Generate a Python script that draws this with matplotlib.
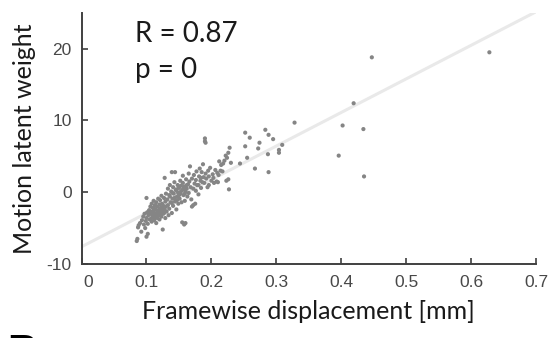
import matplotlib
matplotlib.use('Agg')
import matplotlib.pyplot as plt
import matplotlib.transforms as mtransforms
import numpy as np

fd_low = [0.085, 0.086, 0.087, 0.088, 0.090, 0.092, 0.093, 0.095, 0.096, 0.097, 0.098, 0.099,
          0.100, 0.102, 0.100, 0.100, 0.101, 0.102]
wt_low = [-6.8, -6.5, -4.9, -4.6, -4.3, -5.5, -3.9, -3.4, -4.5, -3.0, -5.0, -4.0,
          -6.2, -5.8, -0.8, -3.6, -2.8, -4.4]

fd_core1 = [0.103, 0.104, 0.105, 0.106, 0.107, 0.108, 0.108, 0.109, 0.110, 0.110, 0.111, 0.112,
            0.112, 0.113, 0.114, 0.114, 0.115, 0.115, 0.116, 0.117, 0.117, 0.118, 0.118, 0.119,
            0.120, 0.120, 0.121, 0.121, 0.122, 0.123, 0.123, 0.124, 0.125, 0.125, 0.126, 0.126,
            0.127, 0.128, 0.128, 0.129, 0.129, 0.130, 0.130]
wt_core1 = [-3.2, -2.5, -3.8, -2.0, -3.0, -4.1, -1.6, -2.7, -3.5, -2.2, -1.2, -3.9,
            -2.9, -1.8, -3.3, -2.4, -4.3, -1.4, -2.9, -3.6, -2.0, -0.9, -3.1, -2.5,
            -1.7, -3.8, -2.8, -1.1, -2.2, -3.4, -0.5, -1.6, -2.6, -5.2, -3.0, -1.9,
            -0.8, -2.4, 2.0, -3.6, -1.3, -0.2, -2.0]

fd_core2 = [0.131, 0.132, 0.133, 0.133, 0.134, 0.135, 0.135, 0.136, 0.137, 0.138, 0.139, 0.139,
            0.140, 0.141, 0.141, 0.142, 0.143, 0.144, 0.144, 0.145, 0.146, 0.147, 0.148, 0.148,
            0.149, 0.150, 0.151, 0.152, 0.152, 0.153, 0.154, 0.155, 0.155, 0.156, 0.156, 0.157,
            0.158, 0.158, 0.159, 0.160, 0.160, 0.161, 0.162, 0.163, 0.164, 0.165, 0.165, 0.166,
            0.167, 0.168, 0.169, 0.170, 0.170, 0.172, 0.172]
wt_core2 = [-2.7, -1.0, 0.5, -1.8, -3.2, -0.4, -2.3, 1.0, -1.4, 0.1, 2.8, -2.9,
            -0.9, 0.7, -1.9, -0.2, 1.4, 2.8, -1.3, 0.3, -2.4, -0.6, 1.0, 0.0,
            -1.6, 0.6, -0.9, 1.6, -0.2, 0.9, -1.4, 0.3, -4.2, 2.3, 1.3, -0.4,
            0.8, -4.5, -1.2, -4.3, 0.1, 1.8, 0.5, -0.6, 1.1, 2.6, -0.1, 1.5,
            3.6, 0.7, -1.0, -2.0, 1.9, 0.5, -1.8]

fd_mid = [0.173, 0.174, 0.175, 0.176, 0.177, 0.178, 0.180, 0.180, 0.181, 0.182, 0.183, 0.184,
          0.185, 0.186, 0.187, 0.188, 0.189, 0.190, 0.190, 0.191, 0.191, 0.192, 0.194, 0.195,
          0.196, 0.198, 0.200, 0.202, 0.204, 0.206, 0.208, 0.209, 0.210, 0.212, 0.214, 0.215,
          0.217, 0.218, 0.220, 0.222, 0.223, 0.224, 0.226, 0.226, 0.227, 0.228, 0.230]
wt_mid = [2.4, 1.2, -1.6, 0.2, 2.9, 1.0, -0.3, 1.0, 2.2, 3.3, 1.6, 0.6,
          2.8, 1.4, 3.9, 2.1, 1.3, 7.1, 7.5, 6.9, 2.6, 1.9, 0.7, 3.0,
          2.2, 3.4, 1.6, 2.5, 1.3, 3.1, 1.5, 2.7, 1.4, 4.3, 3.0, 3.8,
          2.9, 4.0, 4.4, 5.1, 1.6, 4.8, 1.8, 5.5, 0.4, 6.2, 4.1]

fd_high = [0.244, 0.252, 0.259, 0.252, 0.274, 0.272, 0.255, 0.267, 0.283, 0.288, 0.295, 0.309,
           0.304, 0.304, 0.287, 0.288, 0.328, 0.396, 0.402, 0.419, 0.434, 0.435, 0.447, 0.628]
wt_high = [4.0, 8.3, 7.6, 6.4, 6.9, 6.1, 4.8, 3.3, 8.7, 8.0, 7.4, 6.6,
           5.9, 5.5, 5.3, 2.8, 9.7, 5.1, 9.3, 12.4, 8.8, 2.2, 18.8, 19.5]

fd_extra = [0.105, 0.107, 0.109, 0.111, 0.113, 0.116, 0.118, 0.119, 0.121, 0.122, 0.124, 0.127,
            0.114, 0.112, 0.136, 0.140, 0.143, 0.146, 0.150, 0.153, 0.157, 0.159, 0.162, 0.147,
            0.139, 0.184, 0.176, 0.196, 0.203, 0.211]
wt_extra = [-2.9, -3.7, -3.3, -2.6, -3.6, -3.3, -2.7, -3.2, -2.3, -3.0, -2.1, -2.9,
            -1.9, -3.1, -0.6, -0.1, -0.8, 0.4, -0.4, 0.1, 0.5, -0.2, 1.0, -1.1,
            -1.5, 2.0, 1.7, 1.0, 2.0, 2.4]

fd = np.array(fd_low + fd_core1 + fd_core2 + fd_mid + fd_high + fd_extra)
weight = np.array(wt_low + wt_core1 + wt_core2 + wt_mid + wt_high + wt_extra)

# regression line as drawn in the figure
fit_intercept = -7.6
fit_slope = 46.8
r_value = 0.87
p_value = 0

x_ticks = [0, 0.1, 0.2, 0.3, 0.4, 0.5, 0.6, 0.7]
x_ticklabels = ['0', '0.1', '0.2', '0.3', '0.4', '0.5', '0.6', '0.7']
y_ticks = [-10, 0, 10, 20]
y_ticklabels = ['-10', '0', '10', '20']

label_font = ['Lato', 'DejaVu Sans']
tick_font = ['Liberation Sans', 'DejaVu Sans']
spine_col = '#404040'

fig = plt.figure(figsize=(5.51, 3.38), dpi=100)
ax = fig.add_axes([0.148, 0.219, 0.825, 0.743])

xs = np.array([0, 0.7])
ax.plot(xs, fit_intercept + fit_slope * xs, color='#e9e9e9', lw=2.2, zorder=1)
ax.scatter(fd, weight, s=9, color='#858585', edgecolors='none', zorder=2)

ax.set_xlim(0, 0.7)
ax.set_ylim(-10, 25)
ax.spines['top'].set_visible(False)
ax.spines['right'].set_visible(False)
for sp in ['left', 'bottom']:
    ax.spines[sp].set_color(spine_col)
    ax.spines[sp].set_linewidth(1.4)

ax.set_xticks(x_ticks)
ax.set_xticklabels(x_ticklabels, family=tick_font, fontsize=12.5, color='#484848')
ax.set_yticks(y_ticks)
ax.set_yticklabels(y_ticklabels, family=tick_font, fontsize=12.5, color='#484848')
ax.tick_params(axis='x', direction='in', length=4, width=1.2, color=spine_col, pad=8)
ax.tick_params(axis='y', direction='in', length=4, width=1.2, color=spine_col, pad=7)

# first x label sits a bit to the right, clear of the "-10"
lab0 = ax.get_xticklabels()[0]
lab0.set_transform(lab0.get_transform() + mtransforms.ScaledTranslation(7 / 100, 0, fig.dpi_scale_trans))

ax.set_xlabel('Framewise displacement [mm]', family=label_font, fontsize=18, color='#1a1a1a', labelpad=7)
ax.set_ylabel('Motion latent weight', family=label_font, fontsize=18, color='#1a1a1a', labelpad=8)

ax.text(0.082, 20.9, f'R = {r_value}', family=label_font, fontsize=20, color='#1a1a1a', va='baseline')
ax.text(0.082, 15.9, f'p = {p_value}', family=label_font, fontsize=20, color='#1a1a1a', va='baseline')

# panel letter of the next panel, cut by the bottom edge as in the source figure
fig.text(7 / 551, 0.015, 'B', family=['Liberation Sans', 'DejaVu Sans'], fontsize=30,
         fontweight='bold', color='black', va='top', ha='left')

fig.savefig('out.png', dpi=100)
